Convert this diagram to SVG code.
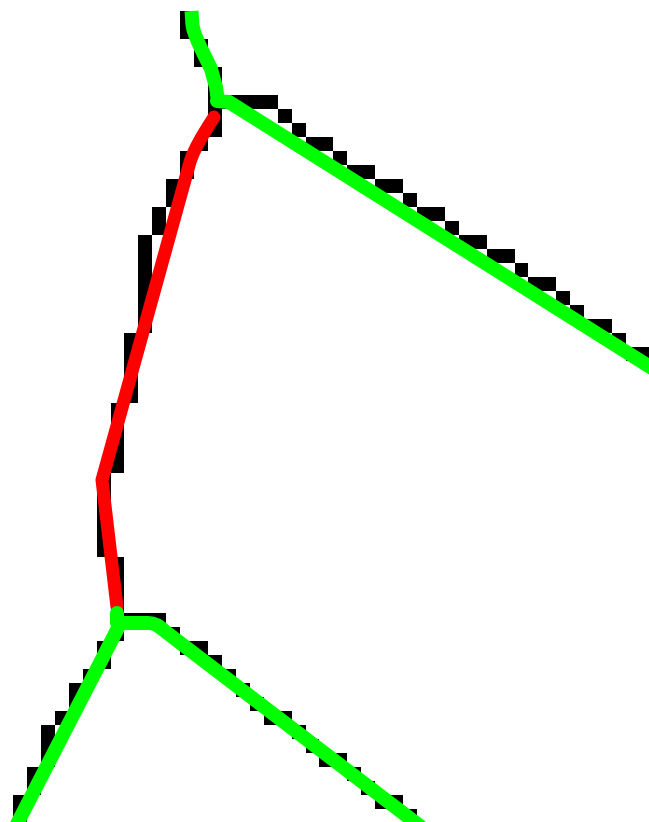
<svg xmlns="http://www.w3.org/2000/svg" width="649" height="822" viewBox="0 0 649 822">
<style>
.px{fill:#000}
.g{fill:none;stroke:#00ff00;stroke-width:14;stroke-linejoin:round;stroke-linecap:round}
.r{fill:none;stroke:#ff0000;stroke-width:13;stroke-linejoin:round;stroke-linecap:round}
</style>
<rect width="649" height="822" fill="#fff"/>
<g id="pixels" transform="translate(-0.9,11) scale(13.93,14)">
<path class="px" shape-rendering="crispEdges" d="M13 0h1v2h-1z M14 2h1v2h-1z M15 4h1v5h-1z M16 6h4v1h-4z M20 7h1v1h-1z M21 8h1v1h-1z M22 9h2v1h-2z M24 10h1v1h-1z M25 11h2v1h-2z M27 12h2v1h-2z M29 13h1v1h-1z M30 14h2v1h-2z M32 15h1v1h-1z M33 16h2v1h-2z M35 17h2v1h-2z M37 18h1v1h-1z M38 19h2v1h-2z M40 20h1v1h-1z M41 21h1v1h-1z M42 22h2v1h-2z M44 23h1v1h-1z M45 24h2v1h-2z M14 9h1v1h-1z M13 10h1v2h-1z M12 12h1v2h-1z M11 14h1v2h-1z M10 16h1v7h-1z M9 23h1v5h-1z M8 28h1v5h-1z M7 33h1v6h-1z M8 39h1v6h-1z M9 43h3v1h-3z M12 44h1v1h-1z M13 45h2v1h-2z M15 46h1v1h-1z M16 47h1v1h-1z M17 48h1v1h-1z M18 49h1v1h-1z M19 50h2v1h-2z M21 51h1v1h-1z M22 52h1v1h-1z M23 53h2v1h-2z M25 54h1v1h-1z M26 55h1v1h-1z M27 56h2v1h-2z M29 57h1v1h-1z M7 45h1v2h-1z M6 47h1v1h-1z M5 48h1v2h-1z M4 50h1v1h-1z M3 51h1v3h-1z M2 54h1v2h-1z M1 56h1v2h-1z"/>
</g>
<g id="lines">
<path class="g" style="stroke-linecap:butt" d="M191.5,11 L192.5,25 C194,38 205,55 211,69 L216,87 L218,101"/>
<path class="g" d="M217,101 L229,102 L655,370"/>
<path class="r" d="M214,117 C205,132 195,145 190,162 L102,480 L117,607"/>
<path class="g" d="M117,613 L117,623 L148,623 C156,623 160,627 166,632 L420,826"/>
<path class="g" d="M118,628 L16,826"/>
</g>
</svg>
